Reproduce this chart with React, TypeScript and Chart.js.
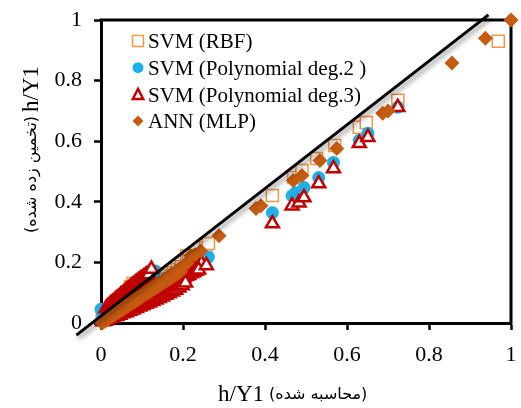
import React, { useEffect, useRef } from 'react';
import { Chart, registerables } from 'chart.js';

Chart.register(...registerables);

// ---------- data ----------
const rbfX = [0.003, 0.012, 0.022, 0.032, 0.042, 0.052, 0.062, 0.072, 0.078, 0.086, 0.096, 0.106, 0.116, 0.126, 0.136, 0.146, 0.156, 0.166, 0.176, 0.186, 0.196, 0.209, 0.214, 0.233, 0.255, 0.262,
  0.418, 0.470, 0.490, 0.526, 0.570, 0.630, 0.647, 0.724, 0.969];
const rbfY = [0.012, 0.020, 0.028, 0.037, 0.046, 0.055, 0.064, 0.120, 0.130, 0.082, 0.090, 0.099, 0.108, 0.117, 0.126, 0.136, 0.146, 0.156, 0.166, 0.176, 0.186, 0.222, 0.205, 0.215, 0.248, 0.262,
  0.421, 0.480, 0.503, 0.543, 0.586, 0.646, 0.662, 0.735, 0.930];

const poly2X = [0.000, 0.004, 0.012, 0.020, 0.030, 0.040, 0.050, 0.060, 0.070, 0.080, 0.090, 0.100, 0.110, 0.114, 0.126, 0.132, 0.145, 0.155, 0.165, 0.175, 0.185, 0.195, 0.205, 0.214, 0.228, 0.245, 0.262,
  0.418, 0.466, 0.475, 0.495, 0.531, 0.567, 0.630, 0.651, 0.724];
const poly2Y = [0.045, 0.030, 0.022, 0.026, 0.034, 0.042, 0.050, 0.058, 0.067, 0.075, 0.083, 0.092, 0.100, 0.160, 0.110, 0.172, 0.127, 0.135, 0.144, 0.152, 0.161, 0.170, 0.182, 0.199, 0.205, 0.212, 0.218,
  0.364, 0.420, 0.430, 0.447, 0.480, 0.530, 0.603, 0.626, 0.712];

const poly3X = [
  0.005, 0.010, 0.015, 0.020, 0.025, 0.030, 0.035, 0.040, 0.045, 0.050, 0.055, 0.060, 0.065, 0.070, 0.075, 0.080, 0.085, 0.090, 0.095, 0.100, 0.105, 0.110, 0.115, 0.120, 0.125, 0.130, 0.135, 0.140, 0.145, 0.150, 0.155, 0.160, 0.165, 0.170, 0.175, 0.180, 0.185, 0.190, 0.195, 0.200, 0.205, 0.210, 0.215, 0.220, 0.225, 0.230, 0.235, 0.240, 0.245,
  0.010, 0.016, 0.022, 0.028, 0.034, 0.040, 0.046, 0.052, 0.058, 0.064, 0.070, 0.076, 0.082, 0.088, 0.094, 0.100, 0.106, 0.112, 0.118, 0.124, 0.130, 0.136, 0.142, 0.148, 0.154, 0.160, 0.166, 0.172, 0.178, 0.184, 0.190, 0.196, 0.202, 0.208, 0.214, 0.220, 0.226, 0.232, 0.238,
  0.030, 0.038, 0.046, 0.054, 0.062, 0.070, 0.078, 0.086, 0.094, 0.102, 0.110, 0.118, 0.126, 0.134, 0.142, 0.150, 0.158, 0.166, 0.174, 0.182, 0.190, 0.198, 0.206,
  0.012, 0.016, 0.020, 0.024, 0.028, 0.032, 0.036, 0.040, 0.044, 0.048, 0.052, 0.056, 0.060, 0.064, 0.068, 0.072, 0.076, 0.080, 0.084, 0.088, 0.092, 0.096, 0.100, 0.104, 0.108, 0.112, 0.116, 0.123,
  0.257, 0.418, 0.466, 0.483, 0.495, 0.531, 0.567, 0.630, 0.651, 0.724];
const poly3Y = [
  0.005, 0.009, 0.013, 0.018, 0.022, 0.026, 0.031, 0.035, 0.039, 0.044, 0.048, 0.052, 0.057, 0.061, 0.066, 0.070, 0.074, 0.078, 0.083, 0.087, 0.092, 0.096, 0.100, 0.104, 0.109, 0.113, 0.118, 0.122, 0.126, 0.131, 0.135, 0.139, 0.144, 0.148, 0.152, 0.157, 0.161, 0.165, 0.170, 0.174, 0.178, 0.182, 0.186, 0.189, 0.192, 0.195, 0.197, 0.198, 0.197,
  0.007, 0.012, 0.016, 0.021, 0.025, 0.030, 0.034, 0.038, 0.043, 0.047, 0.052, 0.056, 0.061, 0.065, 0.070, 0.074, 0.078, 0.083, 0.087, 0.092, 0.096, 0.101, 0.105, 0.110, 0.114, 0.118, 0.123, 0.127, 0.132, 0.136, 0.141, 0.145, 0.149, 0.154, 0.158, 0.163, 0.167, 0.172, 0.176,
  0.017, 0.022, 0.026, 0.031, 0.035, 0.040, 0.044, 0.049, 0.054, 0.058, 0.063, 0.067, 0.072, 0.077, 0.082, 0.087, 0.092, 0.097, 0.103, 0.109, 0.116, 0.124, 0.133,
  0.048, 0.054, 0.058, 0.064, 0.068, 0.072, 0.078, 0.082, 0.086, 0.092, 0.096, 0.100, 0.106, 0.110, 0.114, 0.118, 0.124, 0.128, 0.132, 0.136, 0.140, 0.144, 0.148, 0.152, 0.156, 0.160, 0.160, 0.178,
  0.190, 0.328, 0.387, 0.397, 0.414, 0.460, 0.510, 0.593, 0.613, 0.712];

const annX = [
  0.003, 0.008, 0.013, 0.018, 0.023, 0.028, 0.033, 0.038, 0.043, 0.048, 0.053, 0.058, 0.063, 0.068, 0.073, 0.078, 0.083, 0.088, 0.093, 0.098, 0.103, 0.108, 0.113, 0.118, 0.123, 0.128, 0.133, 0.138, 0.143, 0.148, 0.153, 0.158, 0.163, 0.168, 0.173, 0.178, 0.183, 0.188, 0.193, 0.198, 0.203,
  0.010, 0.018, 0.026, 0.034, 0.042, 0.050, 0.058, 0.066, 0.074, 0.082, 0.090, 0.098, 0.106, 0.114, 0.122, 0.130, 0.138, 0.146, 0.154, 0.162, 0.170, 0.178, 0.186, 0.194,
  0.210, 0.219, 0.229, 0.243, 0.288,
  0.378, 0.390, 0.469, 0.490, 0.534, 0.575, 0.687, 0.700, 0.856, 0.9375, 1.0];
const annY = [
  0.000, 0.007, 0.012, 0.017, 0.021, 0.026, 0.031, 0.035, 0.040, 0.045, 0.049, 0.054, 0.059, 0.063, 0.068, 0.073, 0.077, 0.082, 0.087, 0.091, 0.096, 0.101, 0.106, 0.110, 0.115, 0.120, 0.124, 0.129, 0.134, 0.138, 0.143, 0.148, 0.152, 0.157, 0.162, 0.166, 0.171, 0.176, 0.180, 0.185, 0.190,
  0.006, 0.014, 0.021, 0.028, 0.035, 0.042, 0.049, 0.056, 0.063, 0.070, 0.077, 0.085, 0.092, 0.099, 0.106, 0.113, 0.120, 0.127, 0.134, 0.141, 0.148, 0.155, 0.162, 0.170,
  0.198, 0.222, 0.225, 0.238, 0.288,
  0.378, 0.387, 0.470, 0.487, 0.536, 0.576, 0.692, 0.700, 0.858, 0.940, 1.0];

const refLineX = [-0.060, 0.945];
const refLineY = [-0.040, 1.017];

const tickValues = [0, 0.2, 0.4, 0.6, 0.8, 1];
const tickLabels = ['0', '0.2', '0.4', '0.6', '0.8', '1'];

const legendLabels = ['SVM (RBF)', 'SVM (Polynomial deg.2 )', 'SVM (Polynomial deg.3)', 'ANN (MLP)'];
const xTitleLatin = 'h/Y1';
const xTitleFa = '(محاسبه شده)';
const yTitleLatin = 'h/Y1';
const yTitleFa = '(تخمین زده شده)';

// ---------- styles ----------
const SERIF = '"Liberation Serif", "Times New Roman", Times, serif';
const FA = '"DejaVu Sans", sans-serif';
const C_RBF = '#F79646';
const C_P2 = '#1EAFE6';
const C_P3 = '#C00000';
const C_ANN = '#C55A11';

const toPts = (xs: number[], ys: number[]) => xs.map((x, i) => ({ x, y: ys[i] }));

function drawMarker(ctx: CanvasRenderingContext2D, kind: string, x: number, y: number) {
  ctx.save();
  ctx.beginPath();
  if (kind === 'rect') {
    ctx.rect(x - 5.5, y - 5.5, 11, 11);
    ctx.fillStyle = '#fff';
    ctx.fill();
    ctx.strokeStyle = C_RBF;
    ctx.lineWidth = 1.5;
    ctx.stroke();
  } else if (kind === 'circle') {
    ctx.arc(x, y, 5.5, 0, Math.PI * 2);
    ctx.fillStyle = C_P2;
    ctx.fill();
  } else if (kind === 'triangle') {
    ctx.moveTo(x, y - 5.5);
    ctx.lineTo(x + 5.2, y + 4.5);
    ctx.lineTo(x - 5.2, y + 4.5);
    ctx.closePath();
    ctx.fillStyle = '#fff';
    ctx.fill();
    ctx.strokeStyle = C_P3;
    ctx.lineWidth = 2.5;
    ctx.stroke();
  } else {
    ctx.moveTo(x, y - 5.5);
    ctx.lineTo(x + 5.5, y);
    ctx.lineTo(x, y + 5.5);
    ctx.lineTo(x - 5.5, y);
    ctx.closePath();
    ctx.fillStyle = C_ANN;
    ctx.fill();
  }
  ctx.restore();
}

const framePlugin = {
  id: 'frame',
  beforeDatasetsDraw(chart: any) {
    const { ctx, chartArea } = chart;
    ctx.save();
    ctx.strokeStyle = '#000';
    ctx.lineWidth = 3;
    ctx.beginPath();
    ctx.moveTo(chartArea.left - 1.5, chartArea.top);
    ctx.lineTo(chartArea.right, chartArea.top);
    ctx.lineTo(chartArea.right, chartArea.bottom + 1.5);
    ctx.stroke();
    ctx.restore();
  },
};

const shadowPlugin = {
  id: 'lineShadow',
  beforeDatasetDraw(chart: any, args: any) {
    if (args.index !== 4) return;
    const ctx = chart.ctx;
    ctx.save();
    ctx.shadowColor = 'rgba(0,0,0,0.45)';
    ctx.shadowBlur = 5;
    ctx.shadowOffsetX = 2;
    ctx.shadowOffsetY = 3;
  },
  afterDatasetDraw(chart: any, args: any) {
    if (args.index !== 4) return;
    chart.ctx.restore();
  },
};

const textPlugin = {
  id: 'texts',
  afterDraw(chart: any) {
    const ctx: CanvasRenderingContext2D = chart.ctx;
    ctx.save();
    const kinds = ['rect', 'circle', 'triangle', 'rectRot'];
    ctx.fillStyle = '#000';
    ctx.textBaseline = 'alphabetic';
    ctx.textAlign = 'left';
    ctx.font = `21px ${SERIF}`;
    legendLabels.forEach((lab, i) => {
      const base = 48.3 + i * 26.7;
      drawMarker(ctx, kinds[i], 138, base - 7.3);
      ctx.fillStyle = '#000';
      ctx.fillText(lab, 148, base);
    });
    // x title
    ctx.font = `23px ${SERIF}`;
    ctx.fillText(xTitleLatin, 218, 401);
    const w1 = ctx.measureText(xTitleLatin).width;
    ctx.font = `16px ${FA}`;
    ctx.fillText(xTitleFa, 218 + w1 + 5, 399);
    // y title
    ctx.translate(38, 233);
    ctx.rotate(-Math.PI / 2);
    ctx.font = `16px ${FA}`;
    ctx.fillText(yTitleFa, 0, -2);
    const w2 = ctx.measureText(yTitleFa).width;
    ctx.font = `23px ${SERIF}`;
    ctx.fillText(yTitleLatin, w2 + 4, 0);
    ctx.restore();
  },
};

export default function App() {
  const ref = useRef<HTMLCanvasElement>(null);
  useEffect(() => {
    document.body.style.margin = '0';
    const canvas = ref.current!;
    const axisCommon = (isX: boolean) => ({
      type: 'linear' as const,
      min: 0,
      max: 1,
      position: isX ? 'bottom' : 'left',
      afterBuildTicks: (s: any) => { s.ticks = tickValues.map((v) => ({ value: v })); },
      afterFit: (s: any) => {
        if (isX) { s.height = 85; s.paddingLeft = 0; s.paddingRight = 0; }
        else { s.width = 101; s.paddingTop = 0; s.paddingBottom = 0; }
      },
      grid: { drawOnChartArea: false, drawTicks: true, tickLength: 7, tickWidth: 2.5, tickColor: '#000' },
      border: { display: true, color: '#000', width: 3 },
      ticks: {
        color: '#000',
        font: { family: SERIF, size: 22 },
        padding: 12,
        maxRotation: 0,
        autoSkip: false,
        callback: (_v: any, i: number) => tickLabels[i],
      },
      title: { display: false },
    });
    const chart = new Chart(canvas, {
      type: 'scatter',
      data: {
        datasets: [
          { label: legendLabels[0], data: toPts(rbfX, rbfY), pointStyle: 'rect', pointRadius: 8.5, borderColor: C_RBF, backgroundColor: '#fff', borderWidth: 1.5, order: 4, clip: false } as any,
          { label: legendLabels[1], data: toPts(poly2X, poly2Y), pointStyle: 'circle', pointRadius: 6.5, borderWidth: 0, backgroundColor: C_P2, borderColor: C_P2, order: 3, clip: false },
          { label: legendLabels[2], data: toPts(poly3X, poly3Y), pointStyle: 'triangle', pointRadius: 7.5, borderWidth: 2.5, borderColor: C_P3, backgroundColor: '#fff', order: 2, clip: false },
          { label: legendLabels[3], data: toPts(annX, annY), pointStyle: 'rectRot', pointRadius: 7.5, borderWidth: 0, backgroundColor: C_ANN, borderColor: C_ANN, order: 1, clip: false },
          { type: 'line', label: 'y=x', data: toPts(refLineX, refLineY), borderColor: '#000', borderWidth: 3, pointRadius: 0, showLine: true, fill: false, order: 0, clip: false } as any,
        ],
      },
      options: {
        responsive: false,
        animation: false,
        devicePixelRatio: 1,
        events: [],
        layout: { padding: { left: 0, right: 4, top: 20, bottom: 0 } },
        plugins: { legend: { display: false }, tooltip: { enabled: false } },
        scales: { x: axisCommon(true), y: axisCommon(false) } as any,
      },
      plugins: [framePlugin, shadowPlugin, textPlugin],
    });
    return () => chart.destroy();
  }, []);
  return <canvas ref={ref} width={521} height={408} style={{ display: 'block' }} />;
}
